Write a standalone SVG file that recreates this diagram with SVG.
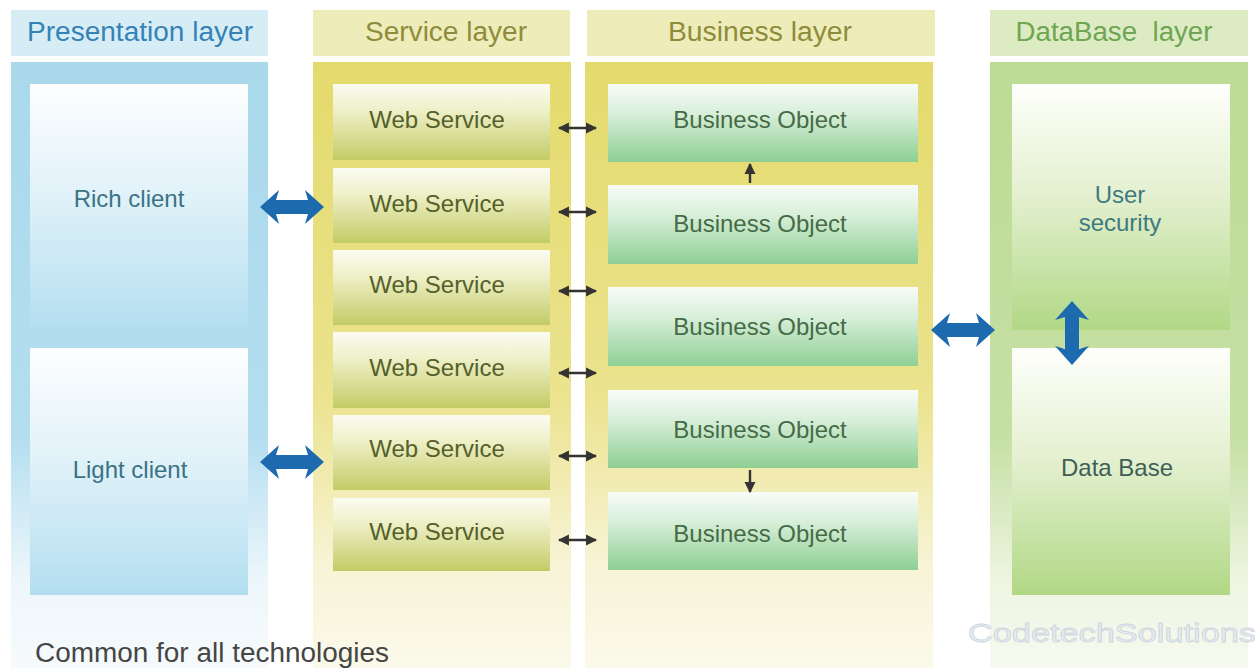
<svg xmlns="http://www.w3.org/2000/svg" width="1255" height="668" viewBox="0 0 1255 668">
<defs>
<linearGradient id="colBlue" x1="0" y1="0" x2="0" y2="1"><stop offset="0" stop-color="#a9d9eb"/><stop offset="0.62" stop-color="#b4def0"/><stop offset="0.86" stop-color="#eef7fb"/><stop offset="1" stop-color="#f6fafc"/></linearGradient>
<linearGradient id="colYellow" x1="0" y1="0" x2="0" y2="1"><stop offset="0" stop-color="#e4da6c"/><stop offset="0.55" stop-color="#ebe38e"/><stop offset="0.84" stop-color="#f8f4d8"/><stop offset="1" stop-color="#fbf9ea"/></linearGradient>
<linearGradient id="colGreen" x1="0" y1="0" x2="0" y2="1"><stop offset="0" stop-color="#bcdb94"/><stop offset="0.62" stop-color="#c6e0a4"/><stop offset="0.86" stop-color="#eef5e2"/><stop offset="1" stop-color="#f6faf0"/></linearGradient>
<linearGradient id="gRich" x1="0" y1="0" x2="0" y2="1"><stop offset="0" stop-color="#fdfeff"/><stop offset="0.45" stop-color="#e1f2f9"/><stop offset="1" stop-color="#b3def0"/></linearGradient>
<linearGradient id="gWS" x1="0" y1="0" x2="0" y2="1"><stop offset="0" stop-color="#fbfbf2"/><stop offset="0.35" stop-color="#eef0c8"/><stop offset="1" stop-color="#c3cb66"/></linearGradient>
<linearGradient id="gBO" x1="0" y1="0" x2="0" y2="1"><stop offset="0" stop-color="#f8fcf8"/><stop offset="0.4" stop-color="#d6eed8"/><stop offset="1" stop-color="#8ecf93"/></linearGradient>
<linearGradient id="gDB" x1="0" y1="0" x2="0" y2="1"><stop offset="0" stop-color="#fefffb"/><stop offset="0.45" stop-color="#e4f0d0"/><stop offset="1" stop-color="#b1d885"/></linearGradient>
<polygon id="bigH" points="-32,0 -13,-17 -16,-7 16,-7 13,-17 32,0 13,17 16,7 -16,7 -13,17"/>
<marker id="ah" viewBox="0 0 10 10" refX="9" refY="5" markerWidth="4.6" markerHeight="4.6" orient="auto-start-reverse"><path d="M0,0 L10,5 L0,10 z" fill="#333"/></marker>
</defs>
<style>
text{font-family:"Liberation Sans",Arial,sans-serif;text-anchor:middle}
.hdr{font-size:27px}
.lbl{font-size:24px}
.big{fill:#1d6bae}
.thin{stroke:#333;stroke-width:2.4;fill:none;marker-start:url(#ah);marker-end:url(#ah)}
.one{stroke:#333;stroke-width:2.4;fill:none;marker-end:url(#ah)}
</style>
<rect width="1255" height="668" fill="#ffffff"/>

<g id="presentation-layer">
<rect x="11" y="10" width="257" height="46" fill="#d6edf6"/>
<rect x="11" y="62" width="257" height="606" fill="url(#colBlue)"/>
<text class="hdr" x="140" y="41" fill="#3582b6" textLength="226" lengthAdjust="spacingAndGlyphs">Presentation layer</text>
</g>
<g id="service-layer">
<rect x="313" y="10" width="257" height="46" fill="#eeedba"/>
<rect x="313" y="62" width="258" height="606" fill="url(#colYellow)"/>
<text class="hdr" x="446" y="41" fill="#8e8c3c" textLength="162" lengthAdjust="spacingAndGlyphs">Service layer</text>
</g>
<g id="business-layer">
<rect x="587" y="10" width="348" height="46" fill="#eeedba"/>
<rect x="585" y="62" width="348" height="606" fill="url(#colYellow)"/>
<text class="hdr" x="760" y="41" fill="#8e8c3c" textLength="184" lengthAdjust="spacingAndGlyphs">Business layer</text>
</g>
<g id="database-layer">
<rect x="990" y="10" width="258" height="46" fill="#dcebc2"/>
<rect x="990" y="62" width="258" height="606" fill="url(#colGreen)"/>
<text class="hdr" x="1114" y="41" fill="#6fa553" textLength="197" lengthAdjust="spacingAndGlyphs" xml:space="preserve">DataBase  layer</text>
</g>

<g id="rich-client"><rect x="30" y="84" width="218" height="246" fill="url(#gRich)"/><text class="lbl" x="129" y="207" fill="#3b7386">Rich client</text></g>
<g id="light-client"><rect x="30" y="348" width="218" height="247" fill="url(#gRich)"/><text class="lbl" x="130" y="478" fill="#3b7386">Light client</text></g>

<g id="ws1"><rect x="333" y="84" width="217" height="76" fill="url(#gWS)"/><text class="lbl" x="437" y="128" fill="#55602a">Web Service</text></g>
<g id="ws2"><rect x="333" y="168" width="217" height="75" fill="url(#gWS)"/><text class="lbl" x="437" y="212" fill="#55602a">Web Service</text></g>
<g id="ws3"><rect x="333" y="250" width="217" height="75" fill="url(#gWS)"/><text class="lbl" x="437" y="293" fill="#55602a">Web Service</text></g>
<g id="ws4"><rect x="333" y="332" width="217" height="76" fill="url(#gWS)"/><text class="lbl" x="437" y="376" fill="#55602a">Web Service</text></g>
<g id="ws5"><rect x="333" y="415" width="217" height="75" fill="url(#gWS)"/><text class="lbl" x="437" y="457" fill="#55602a">Web Service</text></g>
<g id="ws6"><rect x="333" y="498" width="217" height="73" fill="url(#gWS)"/><text class="lbl" x="437" y="540" fill="#55602a">Web Service</text></g>

<g id="bo1"><rect x="608" y="84" width="310" height="78" fill="url(#gBO)"/><text class="lbl" x="760" y="128" fill="#466b46">Business Object</text></g>
<g id="bo2"><rect x="608" y="185" width="310" height="79" fill="url(#gBO)"/><text class="lbl" x="760" y="232" fill="#466b46">Business Object</text></g>
<g id="bo3"><rect x="608" y="287" width="310" height="79" fill="url(#gBO)"/><text class="lbl" x="760" y="335" fill="#466b46">Business Object</text></g>
<g id="bo4"><rect x="608" y="390" width="310" height="78" fill="url(#gBO)"/><text class="lbl" x="760" y="438" fill="#466b46">Business Object</text></g>
<g id="bo5"><rect x="608" y="492" width="310" height="78" fill="url(#gBO)"/><text class="lbl" x="760" y="542" fill="#466b46">Business Object</text></g>

<g id="user-security"><rect x="1012" y="84" width="218" height="246" fill="url(#gDB)"/><text class="lbl" x="1120" y="203" fill="#3f7a80">User</text><text class="lbl" x="1120" y="231" fill="#3f7a80">security</text></g>
<g id="data-base"><rect x="1012" y="348" width="218" height="247" fill="url(#gDB)"/><text class="lbl" x="1117" y="476" fill="#3e5f58">Data Base</text></g>

<g id="connectors">
<use href="#bigH" class="big" transform="translate(292,207)"/>
<use href="#bigH" class="big" transform="translate(292,462)"/>
<use href="#bigH" class="big" transform="translate(963,330)"/>
<use href="#bigH" class="big" transform="translate(1072,333) rotate(90)"/>
<line class="thin" x1="559" y1="128" x2="596" y2="128"/>
<line class="thin" x1="559" y1="212" x2="596" y2="212"/>
<line class="thin" x1="559" y1="291" x2="596" y2="291"/>
<line class="thin" x1="559" y1="373" x2="596" y2="373"/>
<line class="thin" x1="559" y1="456" x2="596" y2="456"/>
<line class="thin" x1="559" y1="540" x2="596" y2="540"/>
<line class="one" x1="750" y1="183" x2="750" y2="164"/>
<line class="one" x1="750" y1="470" x2="750" y2="492"/>
</g>

<text x="212" y="662" style="font-size:27px" fill="#454545" textLength="354" lengthAdjust="spacingAndGlyphs">Common for all technologies</text>
<text x="1112" y="642" style="font-size:25px" fill="#e8edf2" stroke="#cdd6de" stroke-width="0.8" textLength="288" lengthAdjust="spacingAndGlyphs">CodetechSolutions</text>
</svg>
